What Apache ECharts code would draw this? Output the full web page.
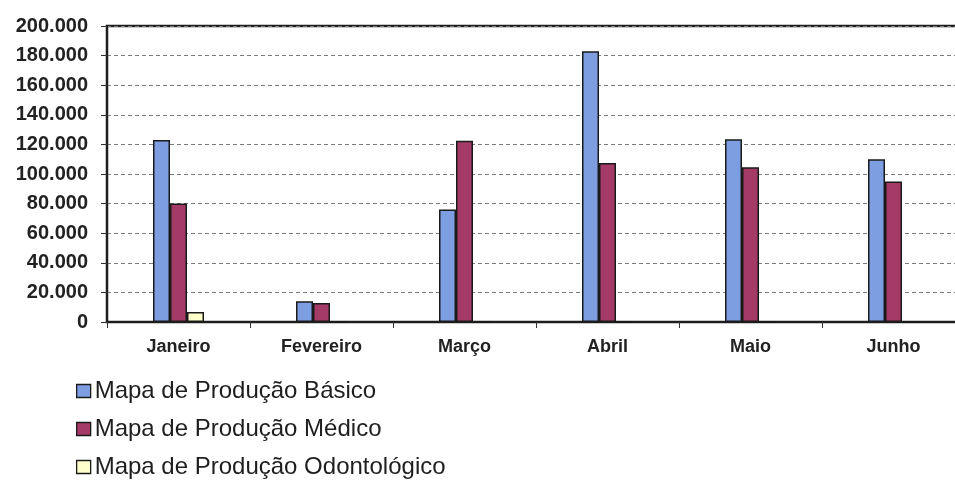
<!DOCTYPE html>
<html>
<head>
<meta charset="utf-8">
<script src="https://cdn.jsdelivr.net/npm/echarts@6/dist/echarts.min.js"></script>
<style>html,body{margin:0;padding:0;background:#fff;}#c{width:955px;height:484px;}</style>
</head>
<body>
<div id="c"></div>
<script>
const categories = ['Janeiro', 'Fevereiro', 'Março', 'Abril', 'Maio', 'Junho'];
const seriesNames = ['Mapa de Produção Básico', 'Mapa de Produção Médico', 'Mapa de Produção Odontológico'];
const basico = [123000, 14000, 76000, 183000, 123500, 110000];
const medico = [80000, 12800, 122500, 107500, 104500, 95000];
const odonto = [6800, 0, 0, 0, 0, 0];
const yMin = 0, yMax = 200000, yStep = 20000;

function fmt(v) {
  return String(v).replace(/\B(?=(\d{3})+(?!\d))/g, '.');
}

const colors = ['#7d9fe2', '#a43b66', '#ffffcc'];
const chart = echarts.init(document.getElementById('c'), null, {renderer: 'canvas'});
const barStyle = (c) => ({color: c, borderColor: '#1a1a1a', borderWidth: 1.5});
chart.setOption({
  backgroundColor: '#ffffff',
  animation: false,
  color: colors,
  grid: {left: 107, top: 26, width: 858, height: 296, outerBoundsMode: 'none', containLabel: false,
         show: true, borderColor: '#1e1e1e', borderWidth: 2.5, backgroundColor: 'transparent'},
  legend: {
    orient: 'vertical', left: 76, top: 379, padding: 0, itemWidth: 14, itemHeight: 13, itemGap: 14,
    icon: 'rect',
    textStyle: {fontFamily: 'Liberation Sans, Arial, sans-serif', fontSize: 24, color: '#1e1e1e', padding: [0, 0, 0, -1]},
    itemStyle: {borderColor: '#1a1a1a', borderWidth: 1.3},
    data: seriesNames
  },
  xAxis: {
    type: 'category', data: categories,
    axisLine: {lineStyle: {color: '#1e1e1e', width: 2}},
    axisTick: {show: true, length: 6, lineStyle: {color: '#333'}},
    axisLabel: {fontFamily: 'Liberation Sans, Arial, sans-serif', fontSize: 18, fontWeight: 'bold', color: '#222', margin: 16}
  },
  yAxis: {
    type: 'value', min: yMin, max: yMax, interval: yStep,
    axisLine: {show: true, lineStyle: {color: '#1e1e1e', width: 2}},
    axisTick: {show: true, length: 6, lineStyle: {color: '#333'}},
    splitLine: {lineStyle: {type: [4, 3], color: '#7a7a7a', width: 1}},
    axisLabel: {fontFamily: 'Liberation Sans, Arial, sans-serif', fontSize: 20, fontWeight: 'bold', color: '#222', margin: 19, formatter: fmt}
  },
  series: [
    {name: seriesNames[0], type: 'bar', data: basico, barWidth: 17, barGap: '0%', itemStyle: barStyle(colors[0])},
    {name: seriesNames[1], type: 'bar', data: medico, barWidth: 17, barGap: '0%', itemStyle: barStyle(colors[1])},
    {name: seriesNames[2], type: 'bar', data: odonto, barWidth: 17, barGap: '0%', itemStyle: barStyle(colors[2])}
  ]
});
</script>
</body>
</html>
